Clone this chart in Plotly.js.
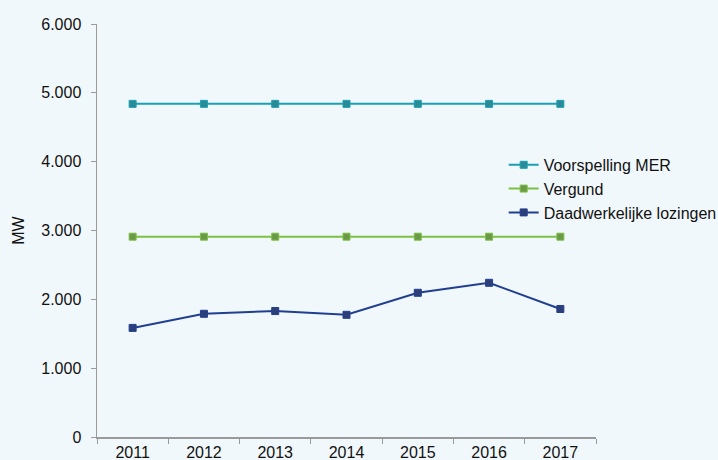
<!DOCTYPE html>
<html>
<head>
<meta charset="utf-8">
<script src="https://cdn.plot.ly/plotly-3.0.1.min.js"></script>
<style>html,body{margin:0;padding:0;background:#f1f8fc;}</style>
</head>
<body>
<div id="chart" style="width:718px;height:460px;"></div>
<script>
const years = ["2011","2012","2013","2014","2015","2016","2017"];
const voorspellingMER = [4840,4840,4840,4840,4840,4840,4840];
const vergund = [2910,2910,2910,2910,2910,2910,2910];
const daadwerkelijk = [1585,1790,1830,1775,2095,2240,1860];
const yTicks = [0,1000,2000,3000,4000,5000,6000];

function tr(name, y, line, mk, grp) {
  return {x: years, y: y, name: name, type: 'scatter', mode: 'lines+markers', legendgroup: grp,
    line: {color: line, width: 2},
    marker: {symbol: 'square', size: 7, color: mk, line: {color: line, width: 1}}};
}
const data = [
  tr('Voorspelling MER', voorspellingMER, '#1aa0b4', '#2a8a96', 'a'),
  tr('Vergund', vergund, '#7cc143', '#6a9a48', 'b'),
  tr('Daadwerkelijke lozingen', daadwerkelijk, '#213f91', '#2c3f78', 'c')
];
const layout = {
  width: 718, height: 460,
  paper_bgcolor: '#f1f8fc', plot_bgcolor: '#f1f8fc',
  margin: {l: 97, r: 122, t: 24, b: 23, autoexpand: false},
  separators: ',.',
  font: {family: 'Liberation Sans, Arial, sans-serif', size: 16, color: '#111'},
  showlegend: true,
  legend: {x: 0.815, y: 0.70, xanchor: 'left', yanchor: 'top', bgcolor: 'rgba(0,0,0,0)',
    font: {size: 16, color: '#111'}, traceorder: 'grouped', tracegroupgap: 0, itemwidth: 30},
  xaxis: {type: 'category', range: [-0.5, 6.5], showgrid: false, zeroline: false,
    showline: true, linecolor: '#9a9a9a', linewidth: 1.5,
    ticks: 'outside', tickson: 'boundaries', ticklen: 5, tickcolor: '#9a9a9a',
    tickfont: {size: 16, color: '#111'}},
  yaxis: {range: [0, 6000], tickvals: yTicks, tickformat: ',d', showgrid: false, zeroline: false,
    showline: true, linecolor: '#9a9a9a', linewidth: 1.5,
    ticks: 'outside', ticklen: 5, tickcolor: '#9a9a9a', ticklabelstandoff: 6,
    tickfont: {size: 16, color: '#111'},
    title: {text: 'MW', font: {size: 16, color: '#111'}, standoff: 12}}
};
Plotly.newPlot('chart', data, layout, {displayModeBar: false, staticPlot: true});
</script>
</body>
</html>
